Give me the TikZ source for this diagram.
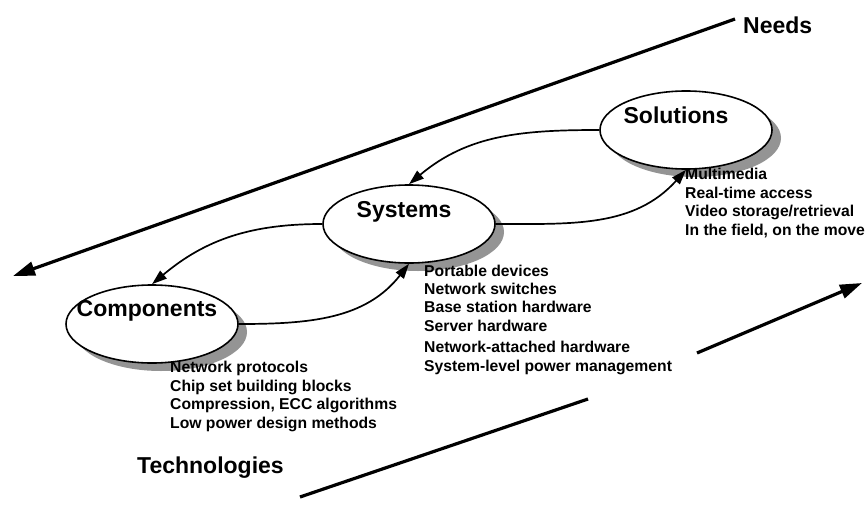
\documentclass[tikz,border=0pt]{standalone}
\usepackage{fontspec}
\setmainfont{Liberation Sans}
\usetikzlibrary{arrows.meta,shapes.geometric,shadows}
\tikzset{
  blob/.style={ellipse,draw,line width=1.6pt,fill=white,minimum width=172pt,minimum height=78pt,
    drop shadow={shadow xshift=9pt,shadow yshift=-8pt,fill=black!42,opacity=1}},
  heading/.style={font=\fontsize{23}{26}\selectfont\bfseries,inner sep=0pt,anchor=base},
  items/.style={font=\fontsize{15.7}{18.4}\selectfont\bfseries,inner sep=0pt,align=left,anchor=base west},
  bigarrow/.style={line width=3.2pt,-{Triangle[length=22pt,width=14pt]}},
  link/.style={line width=1.7pt,-{Triangle[length=15pt,width=10pt]}}
}
\begin{document}
\begin{tikzpicture}[x=1pt,y=1pt]
    \useasboundingbox (0,0) rectangle (865,-506);
    \coordinate (needsA) at (735,-19);
    \coordinate (needsB) at (13,-276);
    \coordinate (techA) at (300,-497);
    \coordinate (techB) at (588,-399);
    \coordinate (techC) at (697,-353);
    \coordinate (techD) at (862,-283);
    \draw[bigarrow] (needsA) -- (needsB);
    \draw[line width=3.2pt] (techA) -- (techB);
    \draw[bigarrow] (techC) -- (techD);
    \node[heading,anchor=base west] (needs) at (743,-33) {Needs};
    \node[heading,anchor=base west] (tech) at (137,-473) {Technologies};
    \node[blob] (comp) at (152,-324) {};
    \node[blob] (sys) at (409,-224) {};
    \node[blob] (sol) at (686,-130) {};
    \node[heading] (comptxt) at (147,-316) {Components};
    \node[heading] (systxt) at (404,-217) {Systems};
    \node[heading] (soltxt) at (676,-123) {Solutions};
    \draw[link] (sol.west) to[out=180,in=40] (sys.north);
    \draw[link] (sys.west) to[out=180,in=40] (comp.north);
    \draw[link] (comp.east) to[out=0,in=232] (sys.south);
    \draw[link] (sys.east) to[out=0,in=228] (sol.south);
    \node[items] (compitems) at (170,-428) {Network protocols\\Chip set building blocks\\Compression, ECC algorithms\\Low power design methods};
    \node[items] (sysitems) at (424,-371) {Portable devices\\Network switches\\Base station hardware\\Server hardware\\[3pt]Network-attached hardware\\System-level power management};
    \node[items] (solitems) at (685,-235) {Multimedia\\Real-time access\\Video storage/retrieval\\In the field, on the move};
\end{tikzpicture}
\end{document}
